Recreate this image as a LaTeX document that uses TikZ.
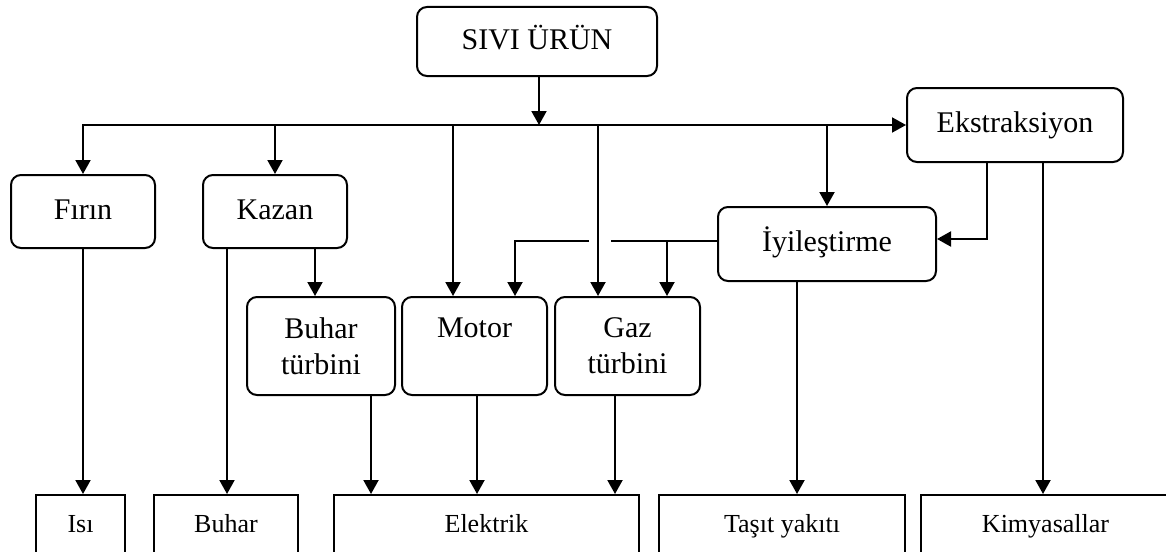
\documentclass[tikz,border=0pt]{standalone}
\usepackage{fontspec}
\setmainfont{Liberation Serif}
\usetikzlibrary{arrows.meta}
\begin{document}
\begin{tikzpicture}[x=1pt,y=-1pt,
  proc/.style={draw, line width=2pt, rounded corners=10pt, inner sep=0pt,
    align=center, font=\fontsize{30}{36}\selectfont},
  oneline/.style={text height=21pt, text depth=6pt},
  outbox/.style={draw, line width=2pt, inner sep=0pt, minimum height=58pt,
    text height=22pt, text depth=6pt, font=\fontsize{26}{31}\selectfont},
  link/.style={line width=2pt},
  arr/.style={link, -{Triangle[length=14pt,width=15pt]}}]
\useasboundingbox (0,0) rectangle (1166,551);
\clip (0,0) rectangle (1166,551);

% process boxes
\node[proc, oneline, minimum width=240pt, minimum height=69pt] (sivi)  at (537,41.5)  {SIVI ÜRÜN};
\node[proc, oneline, minimum width=144pt, minimum height=73pt] (firin) at (83,211.5)  {Fırın};
\node[proc, oneline, minimum width=144pt, minimum height=73pt] (kazan) at (275,211.5) {Kazan};
\node[proc, oneline, minimum width=216pt, minimum height=74pt] (ekstr) at (1015,125)  {Ekstraksiyon};
\node[proc, oneline, minimum width=218pt, minimum height=74pt] (iyil)  at (827,244)   {İyileştirme};
\node[proc, minimum width=148pt, minimum height=98pt] (buhart) at (321,346)   {Buhar\\türbini};
\node[proc, minimum width=145pt, minimum height=98pt] (motor)  at (474.5,346) {Motor\\\mbox{}};
\node[proc, minimum width=145pt, minimum height=98pt] (gaz)    at (627.5,346) {Gaz\\türbini};

% output boxes
\node[outbox, minimum width=89pt]  (isi)    at (80.5,524)  {Isı};
\node[outbox, minimum width=144pt] (buhar)  at (226,524)   {Buhar};
\node[outbox, minimum width=305pt] (elek)   at (486.5,524) {Elektrik};
\node[outbox, minimum width=246pt] (tasit)  at (782,524)   {Taşıt yakıtı};
\node[outbox, minimum width=249pt] (kimya)  at (1045.5,524) {Kimyasallar};

% entry points on the engine boxes
\coordinate (motorA) at ([xshift=-21.5pt]motor.north);
\coordinate (motorB) at ([xshift=40.5pt]motor.north);
\coordinate (gazA)   at ([xshift=-29.5pt]gaz.north);
\coordinate (gazB)   at ([xshift=39.5pt]gaz.north);

% distribution bus
\coordinate (bus) at (539,125);
\draw[arr] (sivi.south -| bus) -- (bus);
\draw[arr] (bus) -| (firin.north);
\draw[arr] (bus) -- (ekstr.west);
\draw[arr] (bus -| kazan.north) -- (kazan.north);
\draw[arr] (bus -| motorA) -- (motorA);
\draw[arr] (bus -| gazA) -- (gazA);
\draw[arr] (bus -| iyil.north) -- (iyil.north);

% upgraded fuel to engines, with a gap at the crossing
\coordinate (hopR) at (611,241);
\coordinate (hopL) at (589,241);
\draw[link] ([yshift=3pt]iyil.west) -- (hopR);
\draw[arr] (hopL) -| (motorB);
\draw[arr] (hopR -| gazB) -- (gazB);

% extraction feeds
\coordinate (exA) at ([xshift=-28pt]ekstr.south);
\coordinate (exB) at ([xshift=28pt]ekstr.south);
\draw[arr] (exA) |- ([yshift=5pt]iyil.east);
\draw[arr] (exB) -- (exB |- kimya.north);

% to products
\coordinate (kzA) at ([xshift=-48pt]kazan.south);
\coordinate (kzB) at ([xshift=40pt]kazan.south);
\coordinate (btO) at ([xshift=50pt]buhart.south);
\coordinate (moO) at ([xshift=2.5pt]motor.south);
\coordinate (gzO) at ([xshift=-12.5pt]gaz.south);
\coordinate (iyO) at ([xshift=-30pt]iyil.south);
\draw[arr] (firin.south) -- (firin.south |- isi.north);
\draw[arr] (kzA) -- (kzA |- buhar.north);
\draw[arr] (kzB) -- (kzB |- buhart.north);
\draw[arr] (btO) -- (btO |- elek.north);
\draw[arr] (moO) -- (moO |- elek.north);
\draw[arr] (gzO) -- (gzO |- elek.north);
\draw[arr] (iyO) -- (iyO |- tasit.north);
\end{tikzpicture}
\end{document}
